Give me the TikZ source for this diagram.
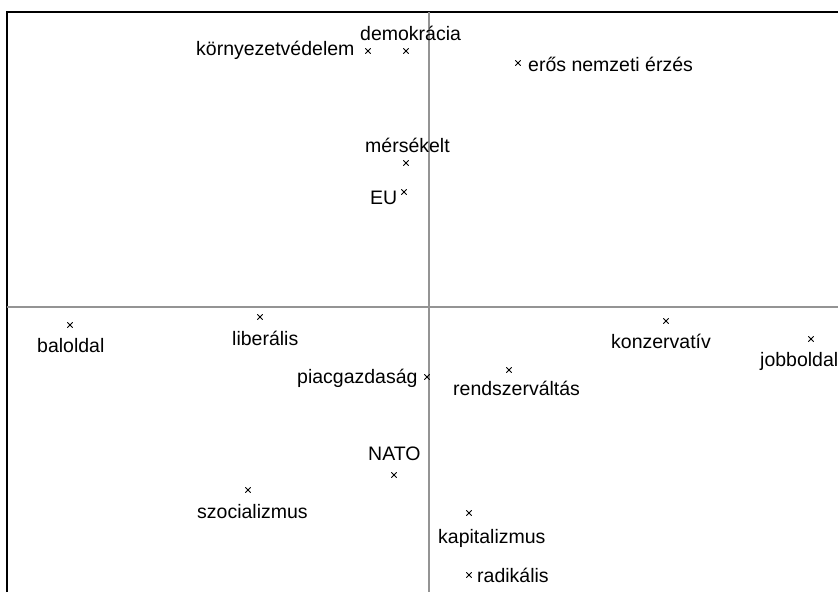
\documentclass[tikz,border=0pt]{standalone}
\usepackage{fontspec}
\setmainfont{Liberation Sans}
\usetikzlibrary{shapes.misc}

\begin{document}
\begin{tikzpicture}[x=1pt,y=1pt,yscale=-1,xscale=1,
  lbl/.style={anchor=base west,inner sep=0pt,font=\fontsize{19.5}{22}\selectfont},
  xpt/.style={cross out,draw,minimum size=4.6pt,inner sep=0pt,line width=0.8pt},
  axis/.style={draw=black!42,line width=1.3pt}]
\useasboundingbox (0,0) rectangle (838,592);

%Straight Lines [id:frame]
\draw [line width=2pt]    (7,592) -- (7,12) -- (838,12) ;
%Straight Lines [id:axes]
\draw [axis]    (429,12) -- (429,592) ;
\draw [axis]    (7,307) -- (838,307) ;

% Points
\node [xpt] (kornyezetP) at (368,51) {};
\node [xpt] (demokraciaP) at (406,51) {};
\node [xpt] (nemzetiP) at (518,63) {};
\node [xpt] (mersekeltP) at (406,163) {};
\node [xpt] (euP) at (404,192) {};
\node [xpt] (baloldalP) at (70,325) {};
\node [xpt] (liberalisP) at (260,317) {};
\node [xpt] (piacP) at (427,377) {};
\node [xpt] (rendszerP) at (509,370) {};
\node [xpt] (konzervativP) at (666,321) {};
\node [xpt] (jobboldalP) at (811,339) {};
\node [xpt] (natoP) at (394,475) {};
\node [xpt] (szocializmusP) at (248,490) {};
\node [xpt] (kapitalizmusP) at (469,513) {};
\node [xpt] (radikalisP) at (469,575) {};

% Text Node
\node [lbl] (kornyezet) at (196,55) {környezetvédelem};
% Text Node
\node [lbl] (demokracia) at (360,40) {demokrácia};
% Text Node
\node [lbl] (nemzeti) at (528,71) {erős nemzeti érzés};
% Text Node
\node [lbl] (mersekelt) at (365,152) {mérsékelt};
% Text Node
\node [lbl] (eu) at (370,204) {EU};
% Text Node
\node [lbl] (baloldal) at (37,352) {baloldal};
% Text Node
\node [lbl] (liberalis) at (232,345) {liberális};
% Text Node
\node [lbl] (piac) at (297,383) {piacgazdaság};
% Text Node
\node [lbl] (rendszer) at (453,395) {rendszerváltás};
% Text Node
\node [lbl] (konzervativ) at (611,348) {konzervatív};
% Text Node
\node [lbl] (jobboldal) at (760,366) {jobboldal};
% Text Node
\node [lbl] (nato) at (368,460) {NATO};
% Text Node
\node [lbl] (szocializmus) at (197,518) {szocializmus};
% Text Node
\node [lbl] (kapitalizmus) at (438,543) {kapitalizmus};
% Text Node
\node [lbl] (radikalis) at (477,582) {radikális};
\end{tikzpicture}
\end{document}
